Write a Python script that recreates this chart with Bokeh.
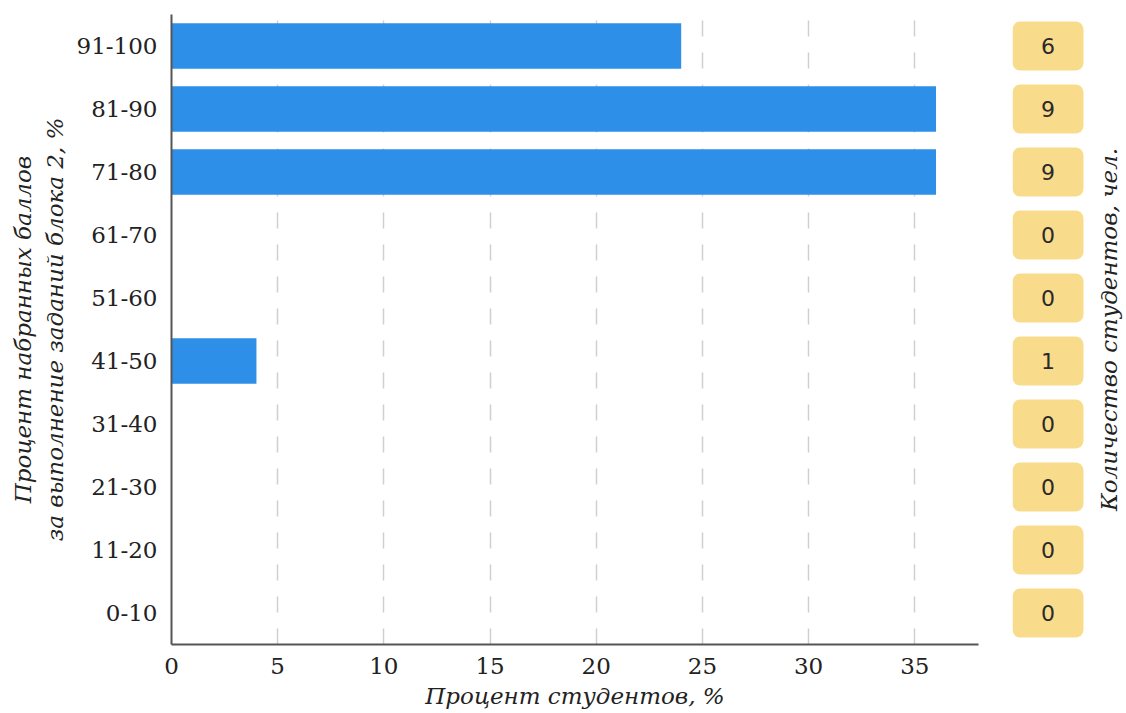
import math
from bokeh.plotting import figure
from bokeh.layouts import row
from bokeh.models import FixedTicker, Range1d, Label, ColumnDataSource
from bokeh.core.properties import value
from bokeh.embed import file_html
from bokeh.resources import INLINE

# ---- data ----
categories = ["0-10", "11-20", "21-30", "31-40", "41-50",
              "51-60", "61-70", "71-80", "81-90", "91-100"]
percent_students = [0, 0, 0, 0, 4, 0, 0, 36, 36, 24]
count_students = [0, 0, 0, 0, 1, 0, 0, 9, 9, 6]
x_ticks = [0, 5, 10, 15, 20, 25, 30, 35]

x_label = "Процент студентов, %"
y_label = "Процент набранных баллов\nза выполнение заданий блока 2, %"
right_label = "Количество студентов, чел."

n = len(categories)
src = ColumnDataSource(dict(cat=categories, pct=percent_students,
                            idx=list(range(n)),
                            cnt=[str(c) for c in count_students]))

H = 712
TOP = 14
BOTTOM = 68
SERIF = "DejaVu Serif"

p1 = figure(width=990, height=H, y_range=categories, x_range=Range1d(0, 38),
            output_backend="svg", toolbar_location=None,
            min_border_left=171, min_border_right=12,
            min_border_top=TOP, min_border_bottom=BOTTOM)
p1.outline_line_color = None
p1.background_fill_color = "white"
p1.border_fill_color = "white"

p1.hbar(y="cat", left=0, right="pct", height=0.72, source=src,
        fill_color="#2E8FE8", line_color=None)

p1.ygrid.visible = False
p1.xgrid.ticker = FixedTicker(ticks=x_ticks)
p1.xgrid.grid_line_color = "#d0d0d0"
p1.xgrid.grid_line_width = 1.5
p1.xgrid.grid_line_dash = "16 16"

xa = p1.xaxis[0]
xa.ticker = FixedTicker(ticks=x_ticks)
xa.axis_label = x_label
ya = p1.yaxis[0]
ya.axis_label = y_label

for ax in (xa, ya):
    ax.axis_line_color = "#555555"
    ax.axis_line_width = 2
    ax.major_tick_line_color = None
    ax.minor_tick_line_color = None
    ax.major_label_text_font = SERIF
    ax.major_label_text_font_size = "23px"
    ax.major_label_text_color = "#222222"
    ax.axis_label_text_font = SERIF
    ax.axis_label_text_font_style = "italic"
    ax.axis_label_text_font_size = "23px"
    ax.axis_label_text_color = "#222222"

xa.major_label_standoff = 7
xa.axis_label_standoff = 6
ya.major_label_standoff = 8
ya.axis_label_standoff = 6

# ---- right panel with counts ----
p2 = figure(width=134, height=H, y_range=Range1d(-0.5, n - 0.5),
            x_range=Range1d(0, 1),
            output_backend="svg", toolbar_location=None,
            min_border_left=22, min_border_right=0,
            min_border_top=TOP, min_border_bottom=BOTTOM)
p2.outline_line_color = None
p2.axis.visible = False
p2.grid.visible = False

p2.hbar(y="idx", left=0, right=0.634, height=0.78, source=src,
        fill_color="#F9DB8C", line_color=None, border_radius=8)
p2.text(x=0.317, y="idx", text="cnt", source=src,
        text_align="center", text_baseline="middle",
        text_font=value("DejaVu Sans"), text_font_size="22px",
        text_color="#2a2a2a")

p2.add_layout(Label(x=0.86, y=(n - 1) / 2, text=right_label,
                    angle=math.pi / 2, text_align="center",
                    text_baseline="middle", text_font=SERIF,
                    text_font_style="italic", text_font_size="23px",
                    text_color="#222222"))

layout = row(p1, p2)
open("out.html", "w").write(file_html(layout, INLINE))
